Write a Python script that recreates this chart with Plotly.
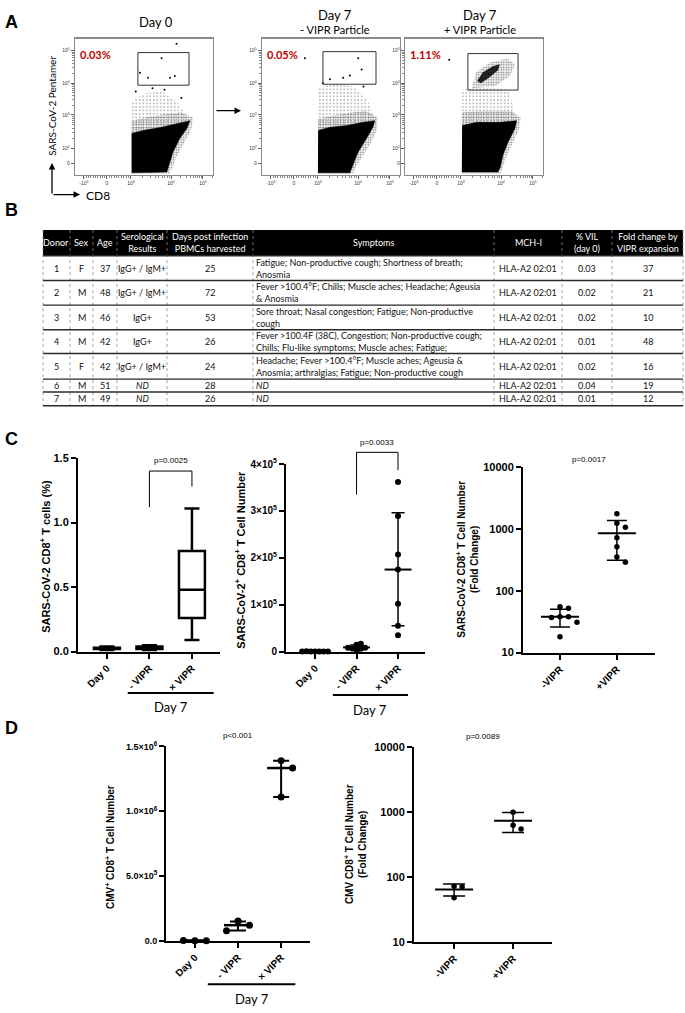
import numpy as np
import plotly.graph_objects as go

W, H = 685, 1013
ARIAL = "Liberation Sans, Arial, sans-serif"
CALIBRI = "Lato, Carlito, Calibri, sans-serif"

# ======================= DATA =======================
# ---- Panel A: flow plots (values in biexponential display units) ----
flow_title_top = ["Day 0", "Day 7", "Day 7"]
flow_title_sub = ["", "- VIPR Particle", "+ VIPR Particle"]
flow_pct = ["0.03%", "0.05%", "1.11%"]
flow_xtick_vals = [-0.96, 0, 1, 2.67, 4.0]
flow_xtick_text = ["-10<sup>3</sup>", "0", "10<sup>3</sup>", "10<sup>4</sup>", "10<sup>5</sup>"]
flow_ytick_vals = [0, 0.45, 1.48, 2.45, 3.45]
flow_ytick_text = ["0", "10<sup>2</sup>", "10<sup>3</sup>", "10<sup>4</sup>", "10<sup>5</sup>"]

a1_dense_x = [1.03, 1.5, 2.21, 2.92, 3.46, 3.33, 3.04, 2.75, 2.63, 2.5, 1.03]
a1_dense_y = [0.91, 1.0, 1.09, 1.21, 1.30, 1.06, 0.76, 0.33, 0.0, -0.27, -0.30]
a1_fringe_x = [1.03, 1.03, 1.6, 2.4, 3.1, 3.6, 3.5, 3.2, 2.9, 2.75, 2.6, 1.03]
a1_fringe_y = [0.91, 1.3, 1.4, 1.5, 1.55, 1.4, 1.0, 0.6, 0.2, -0.1, -0.33, -0.33]
a1_sparse_x = [1.03, 1.05, 1.6, 2.3, 2.9, 3.46]
a1_sparse_y = [0.91, 1.9, 2.15, 2.2, 1.9, 1.30]
a1_pts_x = [2.9, 2.28, 1.375, 1.71, 2.63, 2.83, 1.2, 1.9, 2.4, 3.1]
a1_pts_y = [3.66, 3.22, 2.77, 2.62, 2.62, 2.67, 2.2, 2.3, 2.25, 2.0]
a1_gate_x = [1.29, 3.42]
a1_gate_y = [2.39, 3.39]

a2_dense_x = [1.01, 1.5, 2.2, 2.875, 3.375, 3.29, 3.03, 2.67, 2.46, 2.33, 1.0]
a2_dense_y = [1.0, 1.1, 1.15, 1.25, 1.3, 1.1, 0.76, 0.33, -0.06, -0.3, -0.3]
a2_fringe_x = [1.0, 1.0, 1.6, 2.4, 3.0, 3.5, 3.45, 3.2, 2.85, 2.6, 2.45, 1.0]
a2_fringe_y = [1.0, 1.35, 1.45, 1.55, 1.6, 1.4, 1.0, 0.6, 0.2, -0.1, -0.33, -0.33]
a2_sparse_x = [1.01, 1.0, 1.6, 2.5, 3.1, 3.375]
a2_sparse_y = [1.0, 2.3, 2.45, 2.35, 1.9, 1.3]
a2_pts_x = [2.68, 2.82, 2.05, 2.33, 1.5, 0.46, 1.2, 2.9]
a2_pts_y = [3.22, 2.87, 2.62, 2.69, 2.57, 3.22, 2.45, 2.35]
a2_gate_x = [1.21, 3.42]
a2_gate_y = [2.42, 3.42]

a3_dense_x = [1.05, 1.65, 2.63, 3.32, 3.25, 2.96, 2.75, 2.63, 2.54, 1.04]
a3_dense_y = [1.15, 1.25, 1.25, 1.3, 1.06, 0.64, 0.24, -0.15, -0.27, -0.27]
a3_fringe_x = [1.04, 1.04, 1.7, 2.5, 3.1, 3.5, 3.4, 3.15, 2.9, 2.75, 2.65, 1.04]
a3_fringe_y = [1.15, 1.55, 1.6, 1.6, 1.6, 1.4, 1.0, 0.6, 0.2, -0.1, -0.33, -0.33]
a3_sparse_x = [1.05, 1.05, 1.8, 3.0, 3.32]
a3_sparse_y = [1.15, 2.25, 2.35, 2.25, 1.3]
a3_core_x = [1.67, 1.92, 2.33, 2.63, 2.54, 2.21, 1.83]
a3_core_y = [2.52, 2.79, 2.97, 3.03, 2.85, 2.64, 2.45]
a3_halo_x = [1.46, 1.63, 2.21, 2.92, 3.25, 3.04, 2.42]
a3_halo_y = [2.3, 2.79, 3.09, 3.21, 3.03, 2.67, 2.36]
a3_pts_x = [0.51]
a3_pts_y = [3.17]
a3_gate_x = [1.29, 3.38]
a3_gate_y = [2.24, 3.36]

# ---- Panel B: table ----
tbl_header = ["Donor", "Sex", "Age", "Serological<br>Results", "Days post infection<br>PBMCs harvested",
              "Symptoms", "MCH-I", "% VIL<br>(day 0)", "Fold change by<br>VIPR expansion"]
tbl_donor = ["1", "2", "3", "4", "5", "6", "7"]
tbl_sex = ["F", "M", "M", "M", "F", "M", "M"]
tbl_age = ["37", "48", "46", "42", "42", "51", "49"]
tbl_sero = ["IgG+ / IgM+", "IgG+ / IgM+", "IgG+", "IgG+", "IgG+ / IgM+", "<i>ND</i>", "<i>ND</i>"]
tbl_days = ["25", "72", "53", "26", "24", "28", "26"]
tbl_symptoms = [
    "Fatigue; Non-productive cough; Shortness of breath;<br>Anosmia",
    "Fever >100.4°F; Chills; Muscle aches; Headache; Ageusia<br>& Anosmia",
    "Sore throat; Nasal congestion; Fatigue; Non-productive<br>cough",
    "Fever >100.4F (38C), Congestion; Non-productive cough;<br>Chills; Flu-like symptoms; Muscle aches; Fatigue;",
    "Headache; Fever >100.4°F; Muscle aches; Ageusia &<br>Anosmia; arthralgias; Fatigue; Non-productive cough",
    "<i>ND</i>",
    "<i>ND</i>",
]
tbl_mhc = ["HLA-A2 02:01"] * 7
tbl_vil = ["0.03", "0.02", "0.02", "0.01", "0.02", "0.04", "0.01"]
tbl_fold = ["37", "21", "10", "48", "16", "19", "12"]

# ---- Panel C ----
c1_cats = ["Day 0", "- VIPR", "× VIPR"]
c1_min = [0.01, 0.01, 0.09]
c1_q1 = [0.02, 0.02, 0.26]
c1_med = [0.02, 0.03, 0.48]
c1_q3 = [0.03, 0.04, 0.78]
c1_max = [0.04, 0.05, 1.11]
c1_p = "p=0.0025"

c2_cats = ["Day 0", "- VIPR", "× VIPR"]
c2_day0 = [300, 500, 200, 400, 600, 250, 350]
c2_minus = [14700, 17000, 6000, 6500, 8000, 8500, 2000]
c2_plus = [362000, 289000, 207000, 175000, 102000, 55000, 35000]
c2_center = [370, 9000, 175000]
c2_low = [200, 4000, 55000]
c2_high = [550, 14000, 296000]
c2_p = "p=0.0033"

c3_cats = ["-VIPR", "+VIPR"]
c3_minus = [55, 52, 38, 38, 37, 31, 18]
c3_plus = [1750, 1235, 1060, 716, 513, 352, 290]
c3_center = [38, 850]
c3_low = [26, 310]
c3_high = [50, 1370]
c3_p = "p=0.0017"

# ---- Panel D ----
d1_cats = ["Day 0", "- VIPR", "× VIPR"]
d1_day0 = [1500, 1000, 2000]
d1_minus = [154000, 121000, 78000]
d1_plus = [1390000, 1333000, 1110000]
d1_center = [1500, 121000, 1333000]
d1_low = [1000, 80000, 1110000]
d1_high = [2000, 150000, 1390000]
d1_p = "p<0.001"

d2_cats = ["-VIPR", "+VIPR"]
d2_minus = [72, 71, 48]
d2_plus = [995, 630, 550]
d2_center = [64, 738]
d2_low = [51, 485]
d2_high = [78, 990]
d2_p = "p=0.0089"

# ======================= FIGURE =======================
fig = go.Figure()
layout_axes = {}
shapes = []
annotations = []


def ann(px, py, text, size, family=CALIBRI, color="black", weight="normal", angle=0,
        xanchor="center", yanchor="middle", align="center"):
    annotations.append(dict(x=px / W, y=1 - py / H, xref="paper", yref="paper", text=text,
                            showarrow=False, textangle=angle, xanchor=xanchor, yanchor=yanchor,
                            align=align,
                            font=dict(size=size, family=family, color=color, weight=weight)))


def pshape(**kw):
    shapes.append(kw)


def ax_names(i):
    s = "" if i == 1 else str(i)
    return "xaxis" + s, "yaxis" + s, "x" + s, "y" + s


# ---------- Panel A ----------
def minor_between(a, b, log=True):
    if log:
        return [a + (b - a) * np.log10(m) for m in range(2, 10)]
    return [a + (b - a) * m / 10 for m in range(1, 10)]


flow_xminor = (minor_between(-0.96, 0, False) + minor_between(0, 1, False) + minor_between(1, 2.67)
               + minor_between(2.67, 4.0) + [4.0 + 1.33 * np.log10(m) for m in (2, 3)])
flow_yminor = (minor_between(0.45, 1.48) + minor_between(1.48, 2.45) + minor_between(2.45, 3.45))
flow_xrange = [-1.33, 4.42]
flow_yrange = [-0.36, 3.82]
flow_frames = [(75, 213, 32, 170), (262, 400, 32, 170), (405, 543, 32, 170)]
flow_sets = [
    (a1_dense_x, a1_dense_y, a1_fringe_x, a1_fringe_y, a1_sparse_x, a1_sparse_y, a1_pts_x, a1_pts_y,
     a1_gate_x, a1_gate_y, None),
    (a2_dense_x, a2_dense_y, a2_fringe_x, a2_fringe_y, a2_sparse_x, a2_sparse_y, a2_pts_x, a2_pts_y,
     a2_gate_x, a2_gate_y, None),
    (a3_dense_x, a3_dense_y, a3_fringe_x, a3_fringe_y, a3_sparse_x, a3_sparse_y, a3_pts_x, a3_pts_y,
     a3_gate_x, a3_gate_y, (a3_halo_x, a3_halo_y, a3_core_x, a3_core_y)),
]


def speckle(xs, ys, xr, yr, solidity, size):
    fig.add_trace(go.Scatter(x=xs, y=ys, fill="toself", fillcolor="rgba(0,0,0,0)", mode="lines",
                             line=dict(width=0), xaxis=xr, yaxis=yr, hoverinfo="skip",
                             fillpattern=dict(shape=".", size=size, solidity=solidity, fgcolor="black",
                                              bgcolor="rgba(0,0,0,0)")))


for k, ((l, r, t, b), st) in enumerate(zip(flow_frames, flow_sets)):
    i = k + 1
    xa, ya, xr, yr = ax_names(i)
    layout_axes[xa] = dict(domain=[l / W, r / W], range=flow_xrange, anchor=yr, showline=True, mirror=True,
                           linecolor="#8a8a8a", linewidth=1.2, ticks="outside", ticklen=3, tickwidth=0.8,
                           tickcolor="#333", tickvals=flow_xtick_vals, ticktext=flow_xtick_text,
                           tickfont=dict(size=5, color="#333", family=ARIAL), showgrid=False, zeroline=False,
                           minor=dict(tickvals=flow_xminor, ticklen=2, tickwidth=0.6, tickcolor="#333",
                                      ticks="outside"))
    layout_axes[ya] = dict(domain=[1 - b / H, 1 - t / H], range=flow_yrange, anchor=xr, showline=True,
                           mirror=True, linecolor="#8a8a8a", linewidth=1.2, ticks="outside", ticklen=3,
                           tickwidth=0.8, tickcolor="#333", tickvals=flow_ytick_vals, ticktext=flow_ytick_text,
                           tickfont=dict(size=5, color="#333", family=ARIAL), showgrid=False, zeroline=False,
                           minor=dict(tickvals=flow_yminor, ticklen=2, tickwidth=0.6, tickcolor="#333",
                                      ticks="outside"))
    dx, dy, fx, fy, sx, sy, ptx, pty, gx, gy, clus = st
    speckle(sx, sy, xr, yr, 0.14, 3.5)
    speckle(fx, fy, xr, yr, 0.38, 2.5)
    fig.add_trace(go.Scatter(x=dx, y=dy, fill="toself", fillcolor="black", mode="lines",
                             line=dict(width=0.5, color="black"), xaxis=xr, yaxis=yr, hoverinfo="skip"))
    if clus is not None:
        hx, hy, cx, cy = clus
        speckle(hx, hy, xr, yr, 0.4, 2.5)
        fig.add_trace(go.Scatter(x=cx, y=cy, fill="toself", fillcolor="rgba(0,0,0,0.85)", mode="lines",
                                 line=dict(width=0), xaxis=xr, yaxis=yr, hoverinfo="skip"))
    fig.add_trace(go.Scatter(x=ptx, y=pty, mode="markers", marker=dict(size=2, color="black"),
                             xaxis=xr, yaxis=yr, hoverinfo="skip"))
    fig.add_trace(go.Scatter(x=[gx[0], gx[1], gx[1], gx[0], gx[0]], y=[gy[0], gy[0], gy[1], gy[1], gy[0]],
                             mode="lines", line=dict(color="#333", width=1), xaxis=xr, yaxis=yr,
                             hoverinfo="skip"))
    annotations.append(dict(x=0.02, y=0.88, xref=xr + " domain", yref=yr + " domain", text=flow_pct[k],
                            showarrow=False, xanchor="left", yanchor="middle",
                            font=dict(size=11, family=CALIBRI, color="#c00000", weight="bold")))

ann(156, 15, flow_title_top[0], 13)
ann(335, 8, flow_title_top[1], 13)
ann(335, 23, flow_title_sub[1], 11)
ann(480, 8, flow_title_top[2], 13)
ann(480, 23, flow_title_sub[2], 11)
ann(52, 100, "SARS-CoV-2 Pentamer", 10, angle=-90)
ann(84, 191, "CD8", 12, xanchor="left")
for (hx, hy, tx, ty) in [(52, 158, 0, 32), (80, 190, -28, 0), (241, 105, -26, 0)]:
    annotations.append(dict(x=hx / W, y=1 - hy / H, xref="paper", yref="paper", text="", showarrow=True,
                            ax=tx, ay=ty, arrowhead=2, arrowsize=1, arrowwidth=1.3, arrowcolor="black"))

# ---------- Panel letters ----------
for letter, py in [("A", 15), ("B", 206), ("C", 438), ("D", 730)]:
    ann(11, py, letter, 18, family=ARIAL, weight="bold")

# ---------- Panel B: table ----------
col_edges = [43, 70, 93, 117, 167, 253, 494, 562, 612, 683]
row_edges = [226, 252, 277, 302, 327, 351, 377, 390, 404]
pshape(type="rect", xref="paper", yref="paper", x0=col_edges[0] / W, x1=col_edges[-1] / W,
       y0=1 - row_edges[1] / H, y1=1 - row_edges[0] / H, fillcolor="black", line=dict(width=0), layer="below")
for ce in col_edges:
    pshape(type="line", xref="paper", yref="paper", x0=ce / W, x1=ce / W, y0=1 - row_edges[0] / H,
           y1=1 - row_edges[-1] / H, line=dict(color="#8a8a8a", width=0.8, dash="dot"))
for re_ in row_edges[1:]:
    pshape(type="line", xref="paper", yref="paper", x0=col_edges[0] / W, x1=col_edges[-1] / W,
           y0=1 - re_ / H, y1=1 - re_ / H, line=dict(color="#2a2a2a", width=1.4))
for j, h in enumerate(tbl_header):
    cx = (col_edges[j] + col_edges[j + 1]) / 2
    ann(cx, (row_edges[0] + row_edges[1]) / 2, h, 9, color="white")
columns = [tbl_donor, tbl_sex, tbl_age, tbl_sero, tbl_days, tbl_symptoms, tbl_mhc, tbl_vil, tbl_fold]
for j, col in enumerate(columns):
    for r_, val in enumerate(col):
        cy = (row_edges[r_ + 1] + row_edges[r_ + 2]) / 2
        if j == 5:
            ann(col_edges[j] + 1, cy, val, 9, color="#111", xanchor="left", align="left")
        else:
            ann((col_edges[j] + col_edges[j + 1]) / 2, cy, val, 9, color="#111")


# ---------- Prism-style axes helpers ----------
def prism_axes(i, l, r, t, b, xrng, cats, yrng, ytv, ytt, ylog=False, ysize=11):
    xa, ya, xr, yr = ax_names(i)
    layout_axes[xa] = dict(domain=[l / W, r / W], range=xrng, anchor=yr, showline=True, linecolor="black",
                           linewidth=2, ticks="outside", ticklen=5, tickwidth=2, tickcolor="black",
                           tickvals=list(range(len(cats))), ticktext=cats, tickangle=-45,
                           tickfont=dict(family=ARIAL, size=10, color="black", weight="bold"),
                           showgrid=False, zeroline=False)
    layout_axes[ya] = dict(domain=[1 - b / H, 1 - t / H], range=yrng, anchor=xr, showline=True,
                           linecolor="black", linewidth=2, ticks="outside", ticklen=5, tickwidth=2,
                           tickcolor="black", tickvals=ytv, ticktext=ytt, type="log" if ylog else "linear",
                           tickfont=dict(family=ARIAL, size=ysize, color="black", weight="bold"),
                           showgrid=False, zeroline=False)
    return xr, yr


def swarm(values, center, px_per_x, to_py, spacing):
    placed, xs = [], []
    cands = [0]
    for n in range(1, 30):
        cands += [n, -n]
    for v in values:
        yp = to_py(v)
        xo = 0
        for c in cands:
            xo = c * spacing
            if all((xo - a) ** 2 + (yp - bb) ** 2 >= spacing ** 2 * 0.999 for a, bb in placed):
                break
        placed.append((xo, yp))
        xs.append(center + xo / px_per_x)
    return xs


def dot_panel(xr, yr, groups, centers, lows, highs, px_per_x, to_py, spacing, msize, line_len, cap, lw):
    for g, vals in enumerate(groups):
        fig.add_trace(go.Scatter(x=[g], y=[centers[g]], mode="markers", xaxis=xr, yaxis=yr,
                                 marker=dict(symbol="line-ew", size=line_len / 1.4,
                                             line=dict(width=lw + 0.5, color="black")),
                                 error_y=dict(type="data", symmetric=False, array=[highs[g] - centers[g]],
                                              arrayminus=[centers[g] - lows[g]], width=cap / 2,
                                              thickness=lw, color="black"),
                                 cliponaxis=False, hoverinfo="skip"))
        fig.add_trace(go.Scatter(x=swarm(vals, g, px_per_x, to_py, spacing), y=vals, mode="markers",
                                 xaxis=xr, yaxis=yr, marker=dict(size=msize, color="black"),
                                 cliponaxis=False, hoverinfo="skip"))


def bracket(xr, yr, x0, x1, yl, ytop, yrt, ptext, py_text):
    pshape(type="path", xref=xr, yref=yr + " domain",
           path=f"M {x0},{yl} L {x0},{ytop} L {x1},{ytop} L {x1},{yrt}", line=dict(color="black", width=1))
    annotations.append(dict(x=(x0 + x1) / 2, y=py_text, xref=xr, yref=yr + " domain", text=ptext,
                            showarrow=False, xanchor="center", yanchor="bottom",
                            font=dict(size=8, family=ARIAL, color="black")))


def day7(xr, x0, x1, py_line, py_text):
    pshape(type="line", xref=xr, yref="paper", x0=x0, x1=x1, y0=1 - py_line / H, y1=1 - py_line / H,
           line=dict(color="black", width=2))
    annotations.append(dict(x=(x0 + x1) / 2, y=1 - py_text / H, xref=xr, yref="paper", text="Day 7",
                            showarrow=False, xanchor="center", yanchor="middle",
                            font=dict(size=13, family=CALIBRI, color="black")))


def ptext(xr, yr, text, ydom):
    annotations.append(dict(x=0.5, y=ydom, xref=xr + " domain", yref=yr + " domain", text=text,
                            showarrow=False, xanchor="center", yanchor="bottom",
                            font=dict(size=8, family=ARIAL, color="black")))


# ---------- C1: box plot ----------
C1 = (78, 220, 457, 653)
c1_xr, c1_yr = prism_axes(4, *C1, [-0.68, 2.66], c1_cats, [0, 1.5], [0, 0.5, 1.0, 1.5],
                          ["0.0", "0.5", "1.0", "1.5"])
fig.add_trace(go.Box(x=list(range(3)), q1=c1_q1, median=c1_med, q3=c1_q3, lowerfence=c1_min,
                     upperfence=c1_max, width=0.61, whiskerwidth=0.58, fillcolor="white",
                     line=dict(color="black", width=2.5), xaxis=c1_xr, yaxis=c1_yr, boxpoints=False,
                     hoverinfo="skip"))
bracket(c1_xr, c1_yr, 1, 2, 1.12 / 1.5, 1.40 / 1.5, 1.28 / 1.5, c1_p, 1.43 / 1.5)
day7(c1_xr, 0.49, 2.51, 695, 709)
ann(45, 557, "SARS-CoV-2 CD8<sup>+</sup> T cells (%)", 11, family=ARIAL, weight="bold", angle=-90)

# ---------- C2 ----------
C2 = (286, 425, 463, 653)
c2_ymax = 400000
c2_xr, c2_yr = prism_axes(5, *C2, [-0.70, 2.65], c2_cats, [0, c2_ymax], [0, 1e5, 2e5, 3e5, 4e5],
                          ["0", "1×10<sup>5</sup>", "2×10<sup>5</sup>", "3×10<sup>5</sup>", "4×10<sup>5</sup>"],
                          ysize=10)
h2 = C2[3] - C2[2]
dot_panel(c2_xr, c2_yr, [c2_day0, c2_minus, c2_plus], c2_center, c2_low, c2_high,
          (C2[1] - C2[0]) / 3.35, lambda v: v / c2_ymax * h2, 4.3, 6, 27, 13, 1.5)
bracket(c2_xr, c2_yr, 1, 2, 335000 / c2_ymax, 425000 / c2_ymax, 387000 / c2_ymax, c2_p, 432000 / c2_ymax)
day7(c2_xr, 0.43, 2.24, 697, 712)
ann(240, 560, "SARS-CoV-2<sup>+</sup> CD8<sup>+</sup> T Cell Number", 11, family=ARIAL, weight="bold",
    angle=-90)

# ---------- C3 ----------
C3 = (523, 655, 466, 654)
c3_xr, c3_yr = prism_axes(6, *C3, [-0.65, 1.67], c3_cats, [1, 4], [10, 100, 1000, 10000],
                          ["10", "100", "1000", "10000"], ylog=True)
h3 = C3[3] - C3[2]
dot_panel(c3_xr, c3_yr, [c3_minus, c3_plus], c3_center, c3_low, c3_high,
          (C3[1] - C3[0]) / 2.32, lambda v: (np.log10(v) - 1) / 3 * h3, 8.5, 5.5, 38, 20, 1.5)
ptext(c3_xr, c3_yr, c3_p, 1.005)
ann(468, 560, "SARS-CoV-2 CD8<sup>+</sup> T Cell Number<br>(Fold Change)", 10, family=ARIAL, weight="bold",
    angle=-90)

# ---------- D1 ----------
D1 = (166, 310, 749, 946)
d1_ymax = 1500000
d1_xr, d1_yr = prism_axes(7, *D1, [-0.67, 2.67], d1_cats, [0, d1_ymax], [0, 5e5, 1e6, 1.5e6],
                          ["0.0", "5.0×10<sup>5</sup>", "1.0×10<sup>6</sup>", "1.5×10<sup>6</sup>"], ysize=9)
hd1 = D1[3] - D1[2]
dot_panel(d1_xr, d1_yr, [d1_day0, d1_minus, d1_plus], d1_center, d1_low, d1_high,
          (D1[1] - D1[0]) / 3.34, lambda v: v / d1_ymax * hd1, 11.5, 7, 28, 16, 2)
ptext(d1_xr, d1_yr, d1_p, 1.02)
day7(d1_xr, 0.30, 2.33, 990, 1005)
ann(110, 851, "CMV<sup>+</sup> CD8<sup>+</sup> T Cell Number", 10, family=ARIAL, weight="bold", angle=-90)

# ---------- D2 ----------
D2 = (414, 552, 750, 947)
d2_xr, d2_yr = prism_axes(8, *D2, [-0.68, 1.66], d2_cats, [1, 4], [10, 100, 1000, 10000],
                          ["10", "100", "1000", "10000"], ylog=True)
hd2 = D2[3] - D2[2]
dot_panel(d2_xr, d2_yr, [d2_minus, d2_plus], d2_center, d2_low, d2_high,
          (D2[1] - D2[0]) / 2.34, lambda v: (np.log10(v) - 1) / 3 * hd2, 8, 5.5, 38, 22, 1.5)
ptext(d2_xr, d2_yr, d2_p, 1.02)
ann(355, 848, "CMV CD8<sup>+</sup> T Cell Number<br>(Fold Change)", 10, family=ARIAL, weight="bold",
    angle=-90)

fig.update_layout(width=W, height=H, margin=dict(l=0, r=0, t=0, b=0), paper_bgcolor="white",
                  plot_bgcolor="rgba(0,0,0,0)", showlegend=False, shapes=shapes, annotations=annotations,
                  hovermode=False, **layout_axes)
fig.write_html("out.html", config={"displayModeBar": False, "staticPlot": True},
               post_script="document.body.style.margin='0px';document.body.style.overflow='hidden';")
